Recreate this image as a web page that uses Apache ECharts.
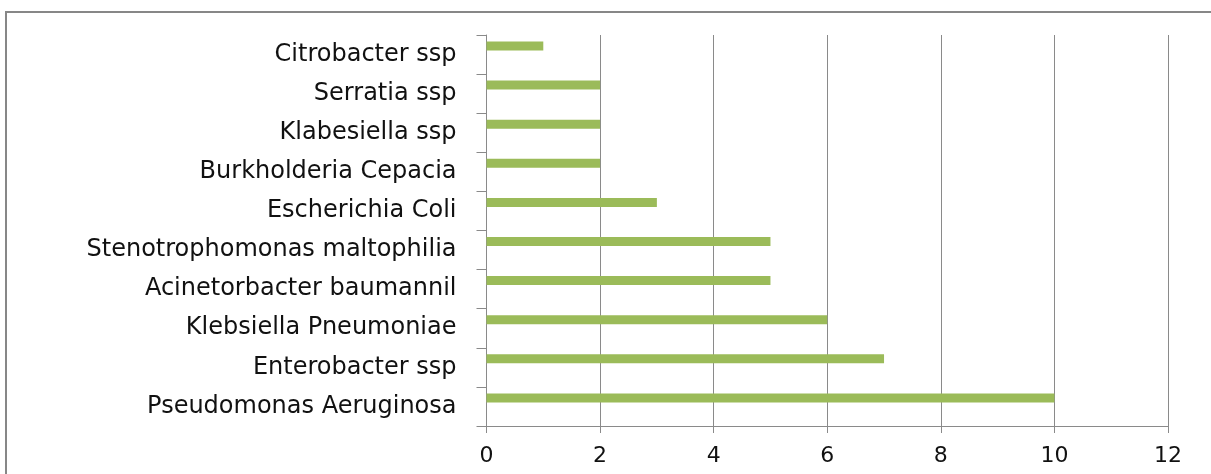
<!DOCTYPE html>
<html>
<head>
<meta charset="utf-8">
<script src="https://cdn.jsdelivr.net/npm/echarts@6/dist/echarts.min.js"></script>
<style>
html,body{margin:0;padding:0;background:#fff;}
#chart{width:1211px;height:474px;}
</style>
</head>
<body>
<div id="chart"></div>
<script>
const categories = [
  "Pseudomonas Aeruginosa",
  "Enterobacter ssp",
  "Klebsiella Pneumoniae",
  "Acinetorbacter baumannil",
  "Stenotrophomonas maltophilia",
  "Escherichia Coli",
  "Burkholderia Cepacia",
  "Klabesiella ssp",
  "Serratia ssp",
  "Citrobacter ssp"
];
const counts = [10, 7, 6, 5, 5, 3, 2, 2, 2, 1];
const emptySeries = [null, null, null, null, null, null, null, null, null, null];

const chart = echarts.init(document.getElementById('chart'), null, {renderer: 'canvas'});
chart.setOption({
  animation: false,
  backgroundColor: '#ffffff',
  graphic: [{
    type: 'rect',
    shape: {x: 6, y: 12, width: 1260, height: 520},
    style: {fill: 'none', stroke: '#878787', lineWidth: 2},
    silent: true
  }],
  grid: {left: 486.5, right: 43, top: 35, bottom: 48, containLabel: false},
  xAxis: {
    type: 'value',
    min: 0, max: 12, interval: 2,
    axisLine: {show: true, lineStyle: {color: '#8a8a8a', width: 1}},
    axisTick: {show: true, length: 7, lineStyle: {color: '#8a8a8a'}},
    splitLine: {show: true, lineStyle: {color: '#8a8a8a', width: 1}},
    axisLabel: {margin: 19, fontSize: 22, fontFamily: 'DejaVu Sans', color: '#111111'}
  },
  yAxis: {
    type: 'category',
    data: categories,
    axisLine: {show: true, lineStyle: {color: '#8a8a8a', width: 1}},
    axisTick: {show: true, length: 10, lineStyle: {color: '#8a8a8a'}},
    splitLine: {show: false},
    axisLabel: {margin: 30, fontSize: 24, fontFamily: 'DejaVu Sans', color: '#111111'}
  },
  series: [
    {type: 'bar', data: counts, barWidth: 9, barGap: '90%', itemStyle: {color: '#9bbb59'}},
    {type: 'bar', data: emptySeries, barWidth: 9, itemStyle: {color: '#9bbb59'}}
  ]
});
</script>
</body>
</html>
